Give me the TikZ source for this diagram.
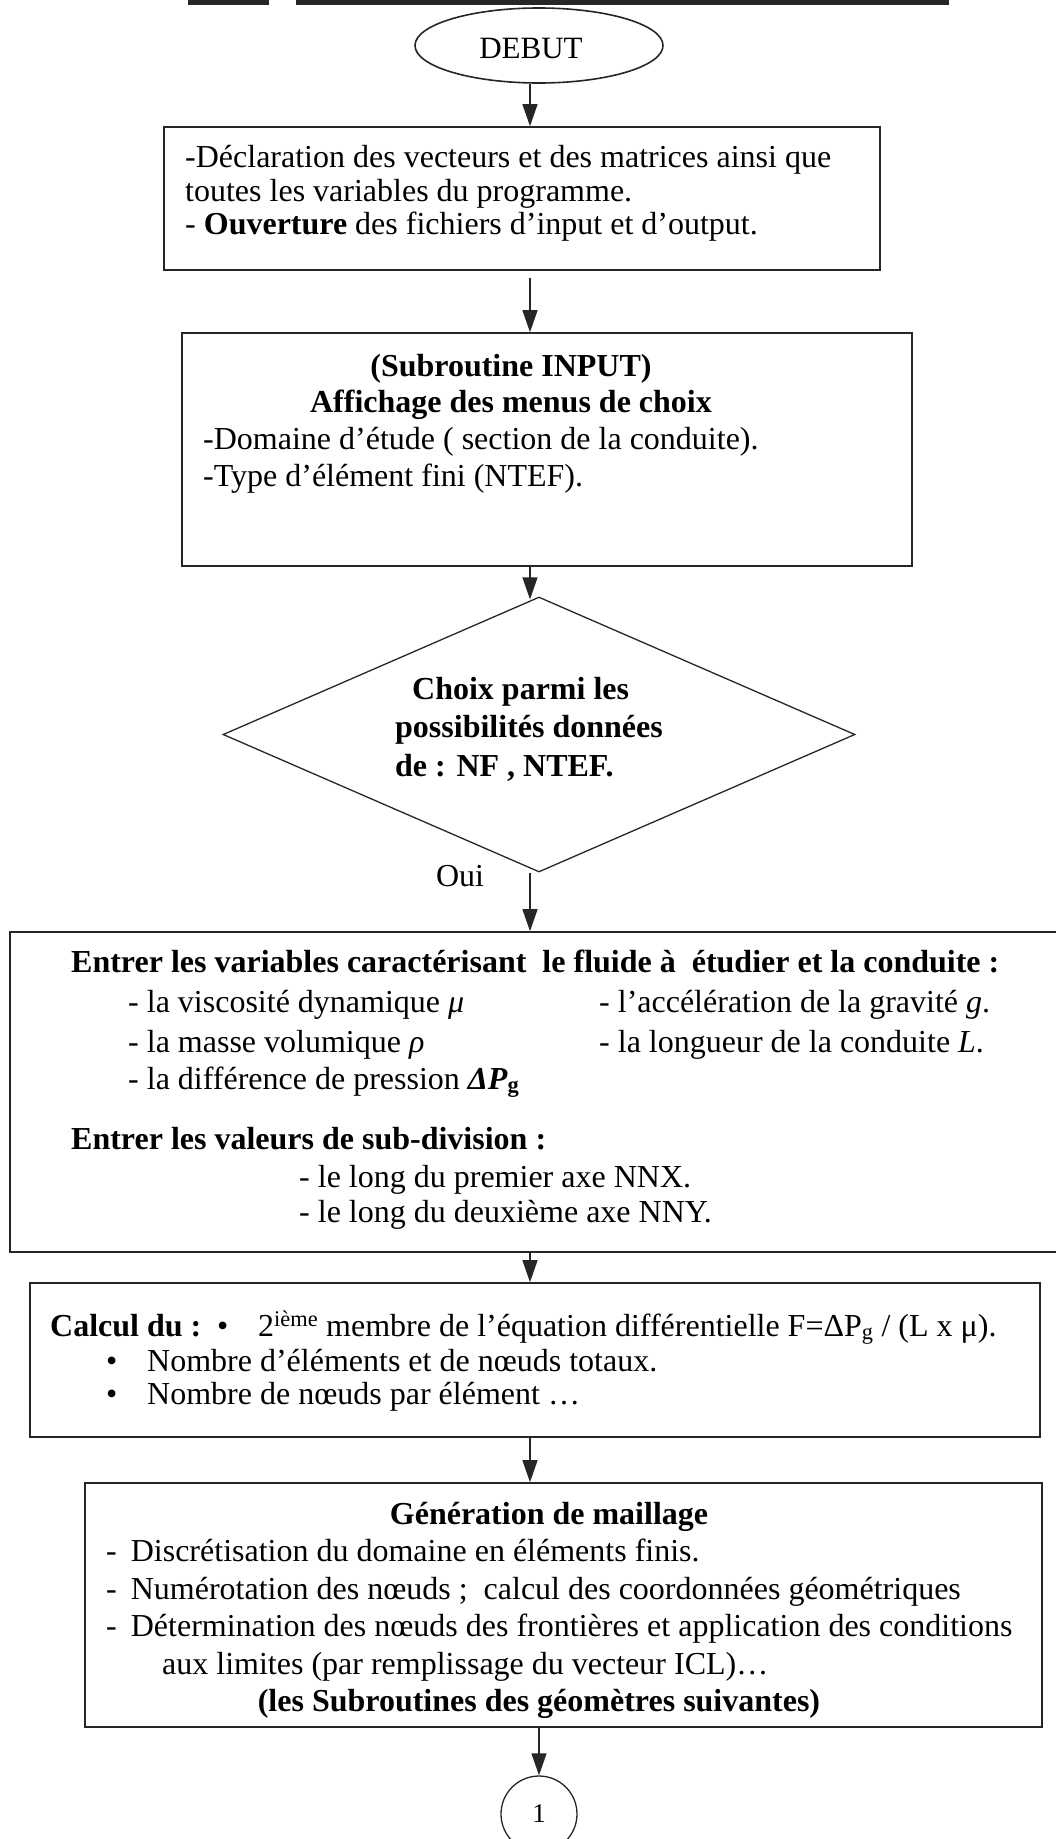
\documentclass[tikz,border=0pt]{standalone}
\usepackage{fontspec}
\setmainfont{Liberation Serif}
\usetikzlibrary{shapes.geometric,arrows.meta}
\begin{document}
\begin{tikzpicture}[x=1pt,y=-1pt,
  frame/.style={draw=black!85, line width=1.6pt, inner sep=0pt, rectangle},
  arr/.style={draw=black!85, line width=1.3pt, -{Triangle[width=15pt,length=22pt]}},
  ln/.style={anchor=base west, inner sep=0pt, font=\fontsize{32}{38}\selectfont},
  lnc/.style={anchor=base, inner sep=0pt, font=\fontsize{32}{38}\selectfont},
  bf/.style={font=\fontsize{32}{38}\selectfont\bfseries}
]
\useasboundingbox (0,0) rectangle (1055,1839);

% underline of the heading, cut at the top edge
\fill[black!85] (188,0) rectangle (269,4.5);
\fill[black!85] (296,0) rectangle (949,4.5);

% vertical flow axis
\coordinate (axis) at (530,0);
\coordinate (axisb) at (539,0);

% start
\node[shape=ellipse, draw=black!85, line width=1.6pt, minimum width=248pt, minimum height=75pt,
      inner sep=0pt] (debut) at (539,45.5) {};
\node[lnc, font=\fontsize{31}{36}\selectfont] (t0) at (531,58) {DEBUT};

% declarations
\node[frame, minimum width=716pt, minimum height=143pt] (b1) at (522,198.5) {};
\node[ln] (t1a) at (185,167) {-Déclaration des vecteurs et des matrices ainsi que};
\node[ln] (t1b) at (185,201) {toutes les variables du programme.};
\node[ln] (t1c) at (185,234) {- \textbf{Ouverture} des fichiers d’input et d’output.};

% input subroutine
\node[frame, minimum width=730pt, minimum height=233pt] (b2) at (547,449.5) {};
\node[lnc, bf] (t2a) at (511,376) {(Subroutine INPUT)};
\node[lnc, bf] (t2b) at (511,412) {Affichage des menus de choix};
\node[ln] (t2c) at (203,449) {-Domaine d’étude ( section de la conduite).};
\node[ln] (t2d) at (203,486) {-Type d’élément fini (NTEF).};

% choice
\node[shape=diamond, draw=black!85, line width=1.3pt, minimum width=632pt, minimum height=275pt,
      inner sep=0pt] (d) at (539,734.5) {};
\node[ln, bf] (tda) at (412,699) {Choix parmi les};
\node[ln, bf] (tdb) at (395,737) {possibilités données};
\node[ln, bf] (tdc) at (395,776) {de : NF , NTEF.};
\node[lnc] (oui) at (460,886) {Oui};

% fluid and pipe data
\node[frame, minimum width=1060pt, minimum height=320pt] (b3) at (540,1092) {};
\node[ln, bf] (t3a) at (71,972) {Entrer les variables caractérisant\ \ le fluide à\ \ étudier et la conduite :};
\node[ln] (t3b) at (128,1012) {- la viscosité dynamique \textit{μ}};
\node[ln] (t3c) at (599,1012) {- l’accélération de la gravité \textit{g}.};
\node[ln] (t3d) at (128,1052) {- la masse volumique \textit{ρ}};
\node[ln] (t3e) at (599,1052) {- la longueur de la conduite \textit{L}.};
\node[ln] (t3f) at (128,1089) {- la différence de pression \textbf{\textit{ΔP}}\textsubscript{\textbf{g}}};
\node[ln, bf] (t3g) at (71,1149) {Entrer les valeurs de sub-division :};
\node[ln] (t3h) at (299,1187) {- le long du premier axe NNX.};
\node[ln] (t3i) at (299,1222) {- le long du deuxième axe NNY.};

% computations
\node[frame, minimum width=1010pt, minimum height=154pt] (b4) at (535,1360) {};
\node[ln, bf] (t4a) at (50,1336) {Calcul du :};
\node[ln] (t4b) at (217,1336) {•};
\node[ln] (t4c) at (258,1336) {2\textsuperscript{ième} membre de l’équation différentielle F=ΔP\textsubscript{g} / (L x μ).};
\node[ln] (t4d) at (106,1371) {•};
\node[ln] (t4e) at (147,1371) {Nombre d’éléments et de nœuds totaux.};
\node[ln] (t4f) at (106,1404) {•};
\node[ln] (t4g) at (147,1404) {Nombre de nœuds par élément …};

% mesh generation
\node[frame, minimum width=957pt, minimum height=244pt] (b5) at (563.5,1605) {};
\node[lnc, bf] (t5a) at (549,1524) {Génération de maillage};
\node[ln] (t5b) at (106,1561) {-\hspace{14pt}Discrétisation du domaine en éléments finis.};
\node[ln] (t5c) at (106,1599) {-\hspace{14pt}Numérotation des nœuds ;\ \ calcul des coordonnées géométriques};
\node[ln] (t5d) at (106,1636) {-\hspace{14pt}Détermination des nœuds des frontières et application des conditions};
\node[ln] (t5e) at (162,1674) {aux limites (par remplissage du vecteur ICL)…};
\node[lnc, bf] (t5f) at (539,1711) {(les Subroutines des géomètres suivantes)};

% connector to the next page
\node[shape=ellipse, draw=black!85, line width=1.3pt, minimum width=76pt, minimum height=76pt,
      inner sep=0pt, font=\fontsize{27}{32}\selectfont] (c1) at (539,1814) {1};

% flow
\draw[arr] (debut.south -| axis) -- (b1.north -| axis);
\draw[arr, shorten <=7pt] (b1.south -| axis) -- (b2.north -| axis);
\draw[arr] (b2.south -| axis) -- ([yshift=-3pt]d.north -| axis);
\draw[arr] (d.south -| axis) -- (b3.north -| axis);
\draw[arr] (b3.south -| axis) -- (b4.north -| axis);
\draw[arr] (b4.south -| axis) -- (b5.north -| axis);
\draw[arr] (b5.south -| axisb) -- (c1.north -| axisb);
\end{tikzpicture}
\end{document}
